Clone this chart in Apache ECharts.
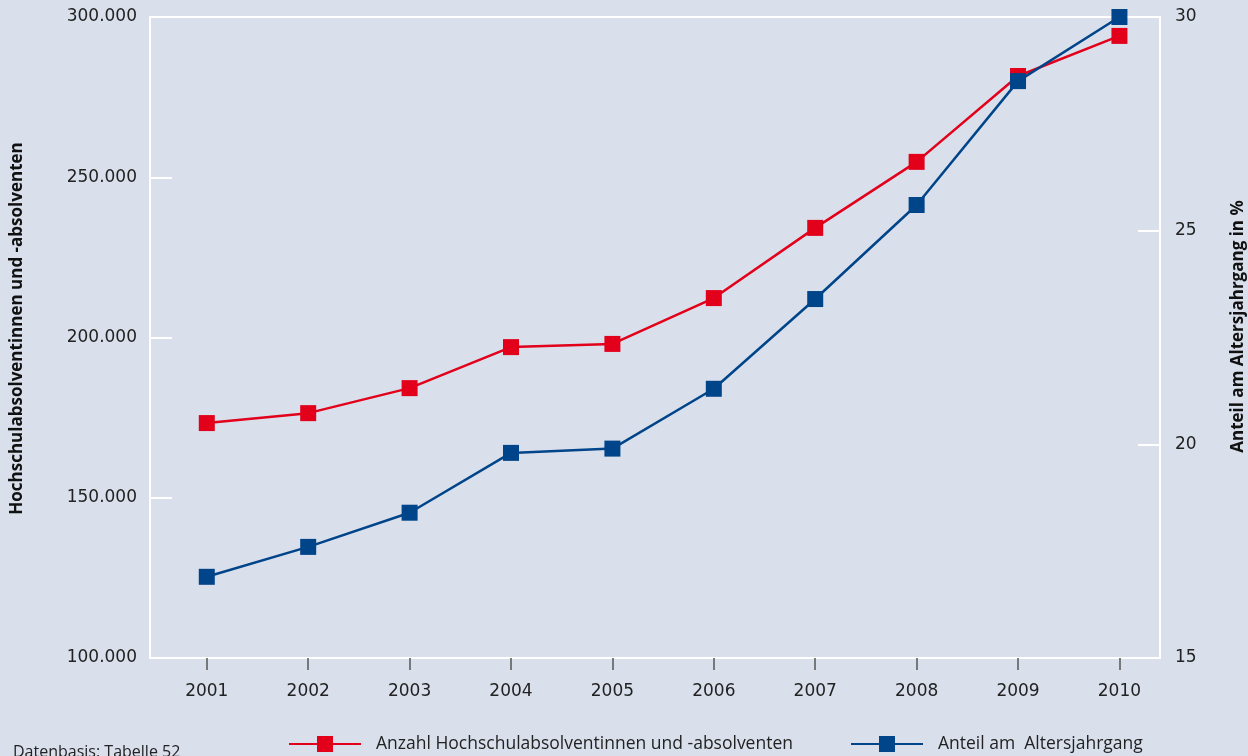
<!DOCTYPE html>
<html><head><meta charset="utf-8">
<script src="https://cdn.jsdelivr.net/npm/echarts@6/dist/echarts.min.js"></script>
<style>html,body{margin:0;padding:0;background:#d9e0ec}#c{width:1248px;height:756px}</style>
</head><body><div id="c"></div>
<script>
const years = [2001, 2002, 2003, 2004, 2005, 2006, 2007, 2008, 2009, 2010];
const absolventen = [173300, 176400, 184200, 197000, 198000, 212300, 234200, 254800, 281600, 294100];
const anteil = [16.9, 17.6, 18.4, 19.8, 19.9, 21.3, 23.4, 25.6, 28.5, 30.0];
const nameA = 'Anzahl Hochschulabsolventinnen und -absolventen';
const nameB = 'Anteil am  Altersjahrgang';
const leftName = 'Hochschulabsolventinnen und -absolventen';
const rightName = 'Anteil am Altersjahrgang in %';
const source = 'Datenbasis: Tabelle 52';

const RED = '#e2001a', BLUE = '#004489', BG = '#d9e0ec';
const FONT = '"Open Sans", "Noto Sans", sans-serif';
const TICKFONT = '"DejaVu Sans", sans-serif';
const chart = echarts.init(document.getElementById('c'));
const fmtDot = v => String(v).replace(/\B(?=(\d{3})+(?!\d))/g, '.');
const legendText = { fontSize: 17.5, color: '#222', fontFamily: FONT, padding: [0, 0, 0, 10] };
chart.setOption({
  backgroundColor: BG,
  animation: false,
  textStyle: { fontFamily: FONT },
  grid: { left: 150, right: 88, top: 17, bottom: 98, outerBoundsMode: 'none', containLabel: false,
          show: true, borderColor: '#fff', borderWidth: 2, backgroundColor: BG },
  legend: [
    { data: [nameA], left: 283, top: 730, itemWidth: 72, itemHeight: 20, textStyle: legendText },
    { data: [nameB], left: 845, top: 730, itemWidth: 72, itemHeight: 20, textStyle: legendText }
  ],
  graphic: [{ type: 'text', left: 13, top: 744, style: { text: source, fontSize: 16, fill: '#222', fontFamily: FONT } }],
  xAxis: {
    type: 'value', min: 2000.44, max: 2010.4,
    splitLine: { show: false },
    axisLine: { show: true, lineStyle: { color: '#fff', width: 2 } },
    axisTick: { show: true, customValues: years, length: 12, lineStyle: { color: '#555', width: 1.5 } },
    axisLabel: { customValues: years, formatter: v => String(v), fontSize: 17, color: '#222', margin: 25, fontFamily: TICKFONT }
  },
  yAxis: [
    {
      type: 'value', min: 100000, max: 300000, interval: 50000,
      name: leftName, nameLocation: 'middle', nameGap: 124, nameRotate: 90,
      nameTextStyle: { fontSize: 17, fontWeight: 'bold', color: '#111', fontFamily: FONT, padding: [0, 0, 0, 18] },
      splitLine: { show: false },
      axisLine: { show: true, lineStyle: { color: '#fff', width: 2 } },
      axisTick: { show: true, inside: true, length: 22, lineStyle: { color: '#fff', width: 2 } },
      axisLabel: { formatter: fmtDot, fontSize: 17, color: '#222', margin: 13, fontFamily: TICKFONT }
    },
    {
      type: 'value', min: 15, max: 30, interval: 5, position: 'right',
      name: rightName, nameLocation: 'middle', nameGap: 70, nameRotate: 90,
      nameTextStyle: { fontSize: 17, fontWeight: 'bold', color: '#111', fontFamily: FONT, padding: [0, 0, 0, 22] },
      splitLine: { show: false },
      axisLine: { show: true, lineStyle: { color: '#fff', width: 2 } },
      axisTick: { show: true, inside: true, length: 22, lineStyle: { color: '#fff', width: 2 } },
      axisLabel: { fontSize: 17, color: '#222', margin: 15, fontFamily: TICKFONT }
    }
  ],
  series: [
    {
      name: nameA, type: 'line', yAxisIndex: 0,
      data: years.map((y, i) => [y, absolventen[i]]),
      symbol: 'rect', symbolSize: 16,
      lineStyle: { color: RED, width: 2.5 }, itemStyle: { color: RED }
    },
    {
      name: nameB, type: 'line', yAxisIndex: 1,
      data: years.map((y, i) => [y, anteil[i]]),
      symbol: 'rect', symbolSize: 16,
      lineStyle: { color: BLUE, width: 2.5 }, itemStyle: { color: BLUE }
    }
  ]
});
</script></body></html>
